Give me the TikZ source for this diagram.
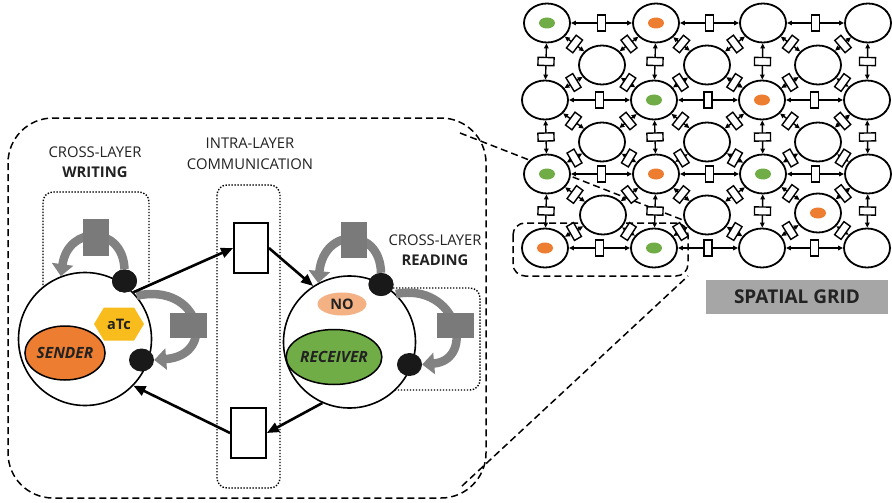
\documentclass[tikz,border=0pt]{standalone}
\usepackage{fontspec}
\setmainfont{Open Sans}
\usetikzlibrary{shapes.geometric,shapes.symbols,arrows.meta}
\definecolor{sorange}{HTML}{ED7D31}
\definecolor{sgreen}{HTML}{70AD47}
\definecolor{ssalmon}{HTML}{F4B183}
\definecolor{syellow}{HTML}{F8BC1C}
\definecolor{sgray}{HTML}{7A7A7A}
\definecolor{sarc}{HTML}{828282}
\definecolor{sbox}{HTML}{A6A6A6}
\definecolor{stext}{HTML}{222222}
\tikzset{
  gnode/.style={ellipse,draw,line width=1.8pt,fill=white,minimum width=46pt,minimum height=39pt,inner sep=0pt},
  gdot/.style={ellipse,minimum width=16pt,minimum height=11pt,inner sep=0pt},
  gconn/.style={{Triangle[length=5pt,width=4.5pt]}-{Triangle[length=5pt,width=4.5pt]},line width=1.4pt},
  gbox/.style={draw,fill=white,line width=1.4pt,minimum width=8pt,minimum height=16pt,inner sep=0pt,sloped},
  zoomline/.style={line width=1.5pt,dash pattern=on 7pt off 4pt},
  dotbox/.style={line width=1.4pt,dash pattern=on 1.4pt off 1.6pt,rounded corners=10pt},
  lbl/.style={text=stext,font=\fontsize{14.8}{17}\selectfont,inner sep=0pt},
  blbl/.style={text=stext,font=\fontsize{14.8}{17}\selectfont\bfseries,inner sep=0pt},
  bigcirc/.style={circle,draw,line width=1.6pt,fill=white,minimum size=133pt,inner sep=0pt},
  bdot/.style={ellipse,fill=black!90,minimum width=25pt,minimum height=23pt,inner sep=0pt},
  gsq/.style={fill=sgray,inner sep=0pt},
  garc/.style={draw=sarc,line width=8.5pt,-{Triangle[width=21pt,length=12pt]}},
  barrow/.style={line width=2.6pt,-{Triangle[length=12pt,width=10pt]}},
  irect/.style={draw,fill=white,line width=1.8pt,inner sep=0pt},
}
\begin{document}
\begin{tikzpicture}[x=1pt,y=-1pt]
\useasboundingbox (0,0) rectangle (892,503);

% ---------- spatial grid ----------
\coordinate (bigtr) at (460,133);
\coordinate (bigbr) at (462,486);
\coordinate (smtr) at (688,222);
\coordinate (smbr) at (688,276);
\draw[zoomline,rounded corners=12pt] (513,223) rectangle (688,276);
\draw[zoomline] (bigtr) -- (smtr);
\draw[zoomline] (bigbr) -- (smbr);

\foreach \nm/\xx/\yy in {m11/547/23,m12/656/23,m13/763/23,m14/868/23,
                      m21/545/100,m22/654/100,m23/762/100,m24/867/100,
                      m31/547/174,m32/656/174,m33/763/174,m34/868/174,
                      m41/545/248,m42/654/248,m43/762/248,m44/867/248,
                      o11/602/65,o12/707/65,o13/818/65,
                      o21/602/142,o22/707/142,o23/818/142,
                      o31/603/215,o32/707/215,o33/818/213}
  {\node[gnode] (\nm) at (\xx,\yy) {};}

\foreach \ra in {1,2,3,4}{
  \foreach \ca/\cb in {1/2,2/3,3/4}{
    \draw[gconn] (m\ra\ca) -- node[gbox,midway]{} (m\ra\cb);
  }
}
\foreach \ca in {1,2,3,4}{
  \foreach \ra/\rb in {1/2,2/3,3/4}{
    \draw[gconn] (m\ra\ca) -- node[gbox,midway]{} (m\rb\ca);
  }
}
\foreach \ra/\rb in {1/2,2/3,3/4}{
  \foreach \ca/\cb in {1/2,2/3,3/4}{
    \draw[gconn] (o\ra\ca) -- node[gbox,midway]{} (m\ra\ca);
    \draw[gconn] (o\ra\ca) -- node[gbox,midway]{} (m\ra\cb);
    \draw[gconn] (o\ra\ca) -- node[gbox,midway]{} (m\rb\ca);
    \draw[gconn] (o\ra\ca) -- node[gbox,midway]{} (m\rb\cb);
  }
}

\foreach \nm/\cl in {m11/sgreen,m12/sorange,m22/sgreen,m23/sorange,
                   m31/sgreen,m32/sorange,m33/sgreen,m41/sorange,m42/sgreen,o33/sorange}
  {\node[gdot,fill=\cl] (d\nm) at (\nm) {};}

\node[fill=sbox,minimum width=182pt,minimum height=34pt,inner sep=0pt,
      text=stext,font=\fontsize{19}{21}\selectfont\bfseries] (glabel) at (797,297) {SPATIAL GRID};

% ---------- zoomed layer ----------
\draw[zoomline,rounded corners=45pt] (8,118) rectangle (486,498);

\draw[dotbox] (217,185) rectangle (280,488);
\draw[dotbox] (43,285) -- (43,192) -- (149,192) -- (149,282);
\draw[dotbox] (393,288) -- (480,288) -- (480,390) -- (395,390);

\node[lbl]  (wl1) at (95,152) {CROSS-LAYER};
\node[blbl] (wl2) at (95,172) {WRITING};
\node[lbl]  (il1) at (250,143) {INTRA-LAYER};
\node[lbl]  (il2) at (250,164) {COMMUNICATION};
\node[lbl]  (rl1) at (435,240) {CROSS-LAYER};
\node[blbl] (rl2) at (435,260) {READING};

\node[bigcirc] (sender) at (85,339) {};
\node[bigcirc,minimum size=132pt] (receiver) at (349.5,342) {};

\node[ellipse,draw,line width=1.5pt,fill=sorange,minimum width=70pt,minimum height=54pt,inner sep=0pt,
      font=\fontsize{15.5}{17}\selectfont\bfseries\itshape,text=stext] (sname) at (65,353) {SENDER};
\node[ellipse,draw,line width=1.5pt,fill=sgreen,minimum width=74pt,minimum height=55pt,inner sep=0pt,
      font=\fontsize{15.5}{17}\selectfont\bfseries\itshape,text=stext] (rname) at (334,357) {RECEIVER};
\node[signal,signal to=west and east,signal pointer angle=118,fill=syellow,minimum width=50pt,
      minimum height=33pt,inner sep=0pt,font=\fontsize{14.5}{16}\selectfont\bfseries,text=stext] (atc) at (119,324) {aTc};
\node[ellipse,fill=ssalmon,minimum width=49pt,minimum height=23pt,inner sep=0pt,
      font=\fontsize{14.5}{16}\selectfont\bfseries,text=stext] (no) at (342,304) {NO};

\node[irect,minimum width=34pt,minimum height=50pt] (trect) at (251,248) {};
\node[irect,minimum width=35pt,minimum height=50pt] (brect) at (248.5,433) {};

\node[bdot] (sd1) at (124.5,281) {};
\node[bdot] (sd2) at (141.5,360) {};
\node[bdot] (rd1) at (381,284.5) {};
\node[bdot] (rd2) at (409.5,364.5) {};

% gray arcs
\draw[garc] (sd1.north) .. controls (123,225) and (68,225) .. (sender.111);
\draw[garc] (sender.40) .. controls (200,282) and (218,355) .. (sd2.east);
\draw[garc] (rd1.north) .. controls (380,227) and (324,227) .. (receiver.118);
\draw[garc] (receiver.46) .. controls (458,282) and (476,360) .. (rd2.east);

\node[gsq,minimum width=26pt,minimum height=37pt] (wsq1) at (96,237) {};
\node[gsq,minimum width=37pt,minimum height=25pt] (wsq2) at (188,325) {};
\node[gsq,minimum width=26pt,minimum height=36pt] (rsq1) at (354,240) {};
\node[gsq,minimum width=37pt,minimum height=25pt] (rsq2) at (455,325) {};

\node[bdot] (sd1b) at (sd1) {};
\node[bdot] (rd1b) at (rd1) {};

% black arrows
\draw[barrow] (sender.44) -- (trect.west);
\draw[barrow] (trect.east) -- (receiver.123);
\draw[barrow] (receiver.246) -- (brect.east);
\draw[barrow] (brect.west) -- (sender.-44);
\end{tikzpicture}
\end{document}
